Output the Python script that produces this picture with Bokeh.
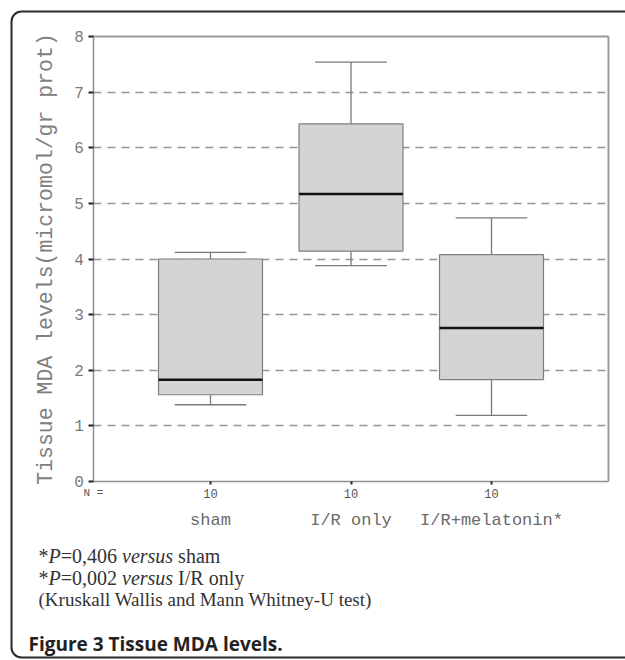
from bokeh.plotting import figure
from bokeh.models import (FixedTicker, LinearAxis, Label, BoxAnnotation, Range1d,
                          ColumnDataSource, Grid)
from bokeh.embed import file_html
from bokeh.resources import INLINE

# ---- data ----
groups = ["sham", "I/R only", "I/R+melatonin*"]
positions = [1, 2, 3]
n_per_group = [10, 10, 10]
whisker_low = [1.38, 3.88, 1.19]
q1 = [1.56, 4.14, 1.83]
median = [1.83, 5.17, 2.76]
q3 = [4.00, 6.43, 4.08]
whisker_high = [4.12, 7.54, 4.74]
y_ticks = [0, 1, 2, 3, 4, 5, 6, 7, 8]
grid_ticks = [1, 2, 3, 4, 5, 6, 7]

# ---- layout (pixels of the 625x660 page) ----
W, H = 625, 660
PLOT_X0, PLOT_X1 = 0.17, 3.83      # data extent of the plotting box
PLOT_Y0, PLOT_Y1 = 0, 8
X_PX, X1_AT = 140.5, 210            # px per x unit, pixel column of x=1
TOP_AT, Y0_AT = 36, 481             # pixel rows of y=8 and y=0
Y_PX = (Y0_AT - TOP_AT) / 8.0       # px per y unit

BOX_W = 0.74
CAP_W = 0.51

src = ColumnDataSource(dict(
    x=positions, low=whisker_low, q1=q1, med=median, q3=q3, high=whisker_high,
    left=[p - BOX_W / 2 for p in positions], right=[p + BOX_W / 2 for p in positions],
    cl=[p - CAP_W / 2 for p in positions], cr=[p + CAP_W / 2 for p in positions],
))

p = figure(width=W, height=H,
           x_range=Range1d(1 - X1_AT / X_PX, 1 + (W - X1_AT) / X_PX),
           y_range=Range1d(-(H - Y0_AT) / Y_PX, 8 + TOP_AT / Y_PX),
           x_axis_type=None, y_axis_type=None,
           min_border=0, toolbar_location=None, output_backend="svg")
p.background_fill_color = "white"
p.border_fill_color = "white"
p.outline_line_color = None

MONO = "Liberation Mono"
AX_COLOR = "#8f8f8f"

# grid
grid = Grid(dimension=1, ticker=FixedTicker(ticks=grid_ticks), cross_bounds=(PLOT_X0, PLOT_X1),
            grid_line_color="#959595", grid_line_width=1.5, grid_line_dash="8 6")
p.add_layout(grid)

# y axis
ya = LinearAxis(fixed_location=PLOT_X0, bounds=(PLOT_Y0, PLOT_Y1), ticker=FixedTicker(ticks=y_ticks))
ya.axis_line_color = AX_COLOR
ya.axis_line_width = 1.5
ya.major_tick_line_color = "#222222"
ya.major_tick_line_width = 2
ya.major_tick_out = 5
ya.major_tick_in = 0
ya.minor_tick_line_color = None
ya.major_label_text_font = MONO
ya.major_label_text_font_size = "16px"
ya.major_label_text_color = "#7a7a7a"
ya.major_label_standoff = 5
ya.axis_label = "Tissue MDA levels(micromol/gr prot)"
ya.axis_label_text_font = MONO
ya.axis_label_text_font_size = "21.5px"
ya.axis_label_text_font_style = "normal"
ya.axis_label_text_color = "#808080"
ya.axis_label_standoff = 13
p.add_layout(ya, "left")

# x axis 1: N counts
xa = LinearAxis(fixed_location=PLOT_Y0, bounds=(PLOT_X0, PLOT_X1), ticker=FixedTicker(ticks=positions),
                major_label_overrides={pos: str(n) for pos, n in zip(positions, n_per_group)})
xa.axis_line_color = AX_COLOR
xa.axis_line_width = 1.5
xa.major_tick_line_color = "#222222"
xa.major_tick_line_width = 2
xa.major_tick_out = 3
xa.major_tick_in = 0
xa.minor_tick_line_color = None
xa.major_label_text_font = MONO
xa.major_label_text_font_size = "12px"
xa.major_label_text_color = "#555555"
xa.major_label_standoff = 4
p.add_layout(xa, "below")

# x axis 2: group names
xa2 = LinearAxis(fixed_location=PLOT_Y0, bounds=(PLOT_X0, PLOT_X1), ticker=FixedTicker(ticks=positions),
                 major_label_overrides={pos: g for pos, g in zip(positions, groups)})
xa2.axis_line_color = None
xa2.major_tick_line_color = None
xa2.major_tick_out = 0
xa2.major_tick_in = 0
xa2.minor_tick_line_color = None
xa2.major_label_text_font = MONO
xa2.major_label_text_font_size = "17px"
xa2.major_label_text_color = "#6a6a6a"
xa2.major_label_standoff = 29
p.add_layout(xa2, "below")

# top and right edges of the plotting box
top_ax = LinearAxis(fixed_location=PLOT_Y1, bounds=(PLOT_X0, PLOT_X1), ticker=FixedTicker(ticks=[]),
                    axis_line_color="#9a9a9a", axis_line_width=2, major_tick_line_color=None,
                    minor_tick_line_color=None, major_label_text_color=None)
p.add_layout(top_ax, "above")
right_ax = LinearAxis(fixed_location=PLOT_X1, bounds=(PLOT_Y0, PLOT_Y1), ticker=FixedTicker(ticks=[]),
                      axis_line_color="#9a9a9a", axis_line_width=2, major_tick_line_color=None,
                      minor_tick_line_color=None, major_label_text_color=None)
p.add_layout(right_ax, "right")

# boxes
WH = "#7a7a7a"
p.segment(x0="x", y0="q3", x1="x", y1="high", source=src, line_color=WH, line_width=1.3)
p.segment(x0="x", y0="low", x1="x", y1="q1", source=src, line_color=WH, line_width=1.3)
p.segment(x0="cl", y0="high", x1="cr", y1="high", source=src, line_color=WH, line_width=1.3)
p.segment(x0="cl", y0="low", x1="cr", y1="low", source=src, line_color=WH, line_width=1.3)
p.quad(left="left", right="right", bottom="q1", top="q3", source=src,
       fill_color="#d4d4d4", line_color="#7f7f7f", line_width=1.2)
p.segment(x0="left", y0="med", x1="right", y1="med", source=src, line_color="#111111", line_width=2.5)


def put(text, x, baseline_row, font, size, style="normal", color="#333333", align="left"):
    """Place a text so that its alphabetic baseline sits at the given pixel row."""
    row = baseline_row - 0.4 * size   # compensate the label's own baseline offset
    p.add_layout(Label(x=x, y=H - row, x_units="screen", y_units="screen", text=text,
                       text_font=font, text_font_size=f"{size}px", text_font_style=style,
                       text_color=color, text_align=align, text_baseline="alphabetic"))


put("N =", 93, 497, MONO, 11, color="#555555", align="center")

# statistics text with italic pieces
ROMAN = {" ": 250, "*": 500, "=": 564, ",": 250, "/": 278, "0": 500, "2": 500, "4": 500, "6": 500,
         "I": 333, "R": 667, "o": 500, "n": 500, "l": 278, "y": 500, "s": 389, "h": 500, "a": 444, "m": 778}
ITALIC = {" ": 250, "P": 611, "v": 444, "e": 444, "r": 389, "s": 389, "u": 500}
SERIF = "Liberation Serif"


def width(s, italic, fs):
    table = ITALIC if italic else ROMAN
    return sum(table.get(c, 500) for c in s) * fs / 1000.0


lines = [
    [("*", False), ("P", True), ("=0,406", False), (" ", False), ("versus", True), (" ", False), ("sham", False)],
    [("*", False), ("P", True), ("=0,002", False), (" ", False), ("versus", True), (" ", False), ("I/R only", False)],
    [("(Kruskall Wallis and Mann Whitney-U test)", False)],
]
baselines = [563, 585, 607]
sizes = [20, 20, 19]
for segs, yb, fs in zip(lines, baselines, sizes):
    x = 38.0
    for s, it in segs:
        if s.strip():
            put(s, x, yb, SERIF, fs, style="italic" if it else "normal", color="#333333")
        x += width(s, it, fs)

put("Figure 3 Tissue MDA levels.", 28, 651, "Open Sans", 19, style="bold", color="#222222")

# rounded border of the figure panel
p.add_layout(BoxAnnotation(left=11, right=W + 20, top=H - 11, bottom=H - 657,
                           left_units="screen", right_units="screen",
                           top_units="screen", bottom_units="screen",
                           fill_color=None, line_color="#2a2a2a", line_alpha=1.0, line_width=2,
                           border_radius=10))

open("out.html", "w").write(file_html(p, INLINE))
